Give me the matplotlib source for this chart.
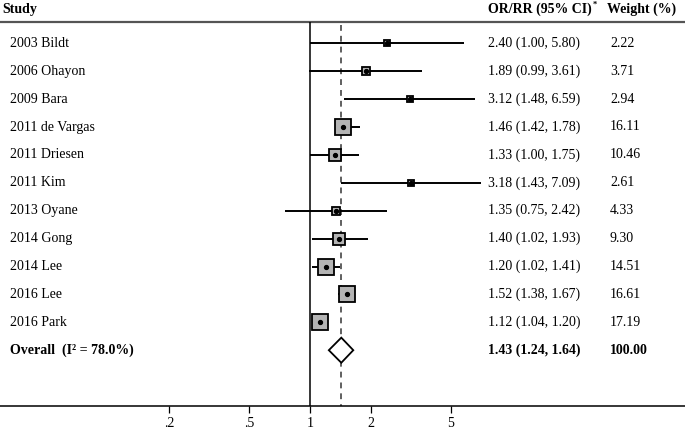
import numpy as np
import matplotlib
matplotlib.use("Agg")
import matplotlib.pyplot as plt
from matplotlib.ticker import NullLocator

plt.rcParams['font.family'] = ['Liberation Serif', 'DejaVu Serif']

# data
studies = ["2003 Bildt", "2006 Ohayon", "2009 Bara", "2011 de Vargas", "2011 Driesen",
           "2011 Kim", "2013 Oyane", "2014 Gong", "2014 Lee", "2016 Lee", "2016 Park"]
est = [2.40, 1.89, 3.12, 1.46, 1.33, 3.18, 1.35, 1.40, 1.20, 1.52, 1.12]
ci_lo = [1.00, 0.99, 1.48, 1.42, 1.00, 1.43, 0.75, 1.02, 1.02, 1.38, 1.04]
ci_hi = [5.80, 3.61, 6.59, 1.78, 1.75, 7.09, 2.42, 1.93, 1.41, 1.67, 1.20]
weights = [2.22, 3.71, 2.94, 16.11, 10.46, 2.61, 4.33, 9.30, 14.51, 16.61, 17.19]
overall_est, overall_lo, overall_hi = 1.43, 1.24, 1.64
total_weight = 100.00
i2 = 78.0
tick_vals = [0.2, 0.5, 1, 2, 5]
tick_labels = [".2", ".5", "1", "2", "5"]

W, H = 685, 433
fig = plt.figure(figsize=(W / 100, H / 100), dpi=100)
ax = fig.add_axes([0, 0, 1, 1])
ax.set_xscale("log")

# pixel layout: x=1 sits at 310px, 87.5px per ln unit; rows 27.9px apart from 43.3px
px_per_ln, x_one = 87.5, 310
ax.set_xlim(np.exp(-x_one / px_per_ln), np.exp((W - x_one) / px_per_ln))
row0, row_h = 43.3, 27.9
ax.set_ylim((H - row0) / row_h, -row0 / row_h)

def px2row(py):
    return (py - row0) / row_h

def px2fx(px):
    return px / W

n = len(studies)
rows = np.arange(n)
overall_row = n
axis_row = px2row(406)
head_line = px2row(22)

# reference lines
ax.axhline(head_line, color="#555555", lw=1.6)
ax.vlines(1, head_line, axis_row, color="black", lw=1.1)
ax.vlines(overall_est, head_line + 0.1, axis_row, color="#444444", lw=1.2,
          linestyles=(0, (3.5, 3)))

# study CIs and weighted squares
ax.hlines(rows, ci_lo, ci_hi, color="black", lw=1.4, zorder=3)
for r, e, w in zip(rows, est, weights):
    side = 4.0 * np.sqrt(w) * 0.72
    ax.plot(e, r, marker="s", ms=side, mfc="#b4b4b4", mec="black", mew=1.3, zorder=4)
ax.plot(est, rows, "o", color="black", ms=2.8, zorder=5)

# overall diamond
dh = 0.45
ax.fill([overall_lo, overall_est, overall_hi, overall_est],
        [overall_row, overall_row - dh, overall_row, overall_row + dh],
        facecolor="white", edgecolor="black", lw=1.3, zorder=4)

# x axis
for s in ["top", "left", "right"]:
    ax.spines[s].set_visible(False)
ax.spines["bottom"].set_position(("data", axis_row))
ax.spines["bottom"].set_linewidth(1.1)
ax.set_xticks(tick_vals)
ax.set_xticklabels(tick_labels)
ax.xaxis.set_minor_locator(NullLocator())
ax.tick_params(axis="x", direction="out", length=5, width=0.9, pad=3, labelsize=10)
ax.set_yticks([])

# text columns
fs = 10
x_study, x_or, x_wt = px2fx(10), px2fx(488), px2fx(610)
trans = ax.get_yaxis_transform()  # x in axes fraction, y in data
head_row = px2row(9)
ax.text(px2fx(2), head_row, "Study", transform=trans, fontsize=fs, fontweight="bold", va="center")
hdr = ax.text(x_or, head_row, "OR/RR (95% CI)", transform=trans, fontsize=fs,
              fontweight="bold", va="center")
ax.text(px2fx(607), head_row, "Weight (%)", transform=trans, fontsize=fs,
        fontweight="bold", va="center")
fig.canvas.draw()
bb = hdr.get_window_extent()
ax.text(px2fx(bb.x1 + 1), px2row(5), "*", transform=trans, fontsize=6,
        fontweight="bold", va="center")

for r, name, e, lo, hi, w in zip(rows, studies, est, ci_lo, ci_hi, weights):
    ax.text(x_study, r, name, transform=trans, fontsize=fs, va="center")
    ax.text(x_or, r, f"{e:.2f} ({lo:.2f}, {hi:.2f})", transform=trans, fontsize=fs, va="center")
    ax.text(x_wt, r, f"{w:.2f}", transform=trans, fontsize=fs, va="center")

ax.text(x_study, overall_row, f"Overall  (I\u00b2 = {i2:.1f}%)", transform=trans,
        fontsize=fs, fontweight="bold", va="center")
ax.text(x_or, overall_row, f"{overall_est:.2f} ({overall_lo:.2f}, {overall_hi:.2f})",
        transform=trans, fontsize=fs, fontweight="bold", va="center")
ax.text(x_wt, overall_row, f"{total_weight:.2f}", transform=trans, fontsize=fs,
        fontweight="bold", va="center")

fig.savefig("out.png", dpi=100)
